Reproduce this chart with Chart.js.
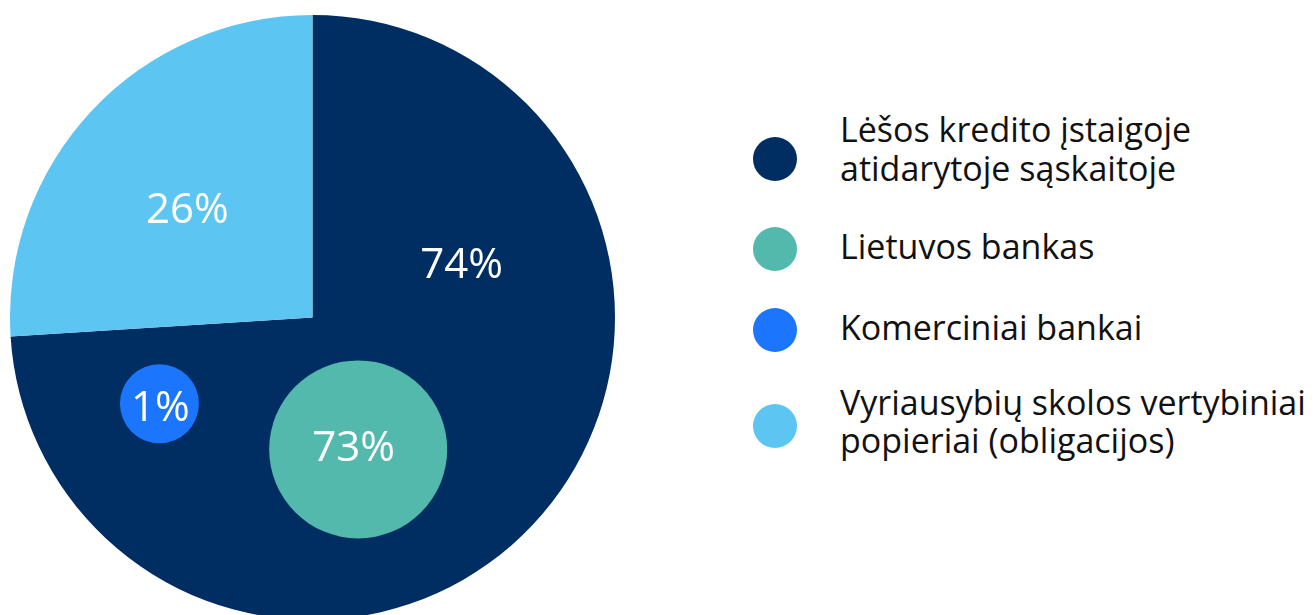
<!DOCTYPE html>
<html lang="lt">
<head>
<meta charset="utf-8">
<script src="https://cdn.jsdelivr.net/npm/chart.js@4/dist/chart.umd.min.js"></script>
<style>
  html, body { margin: 0; padding: 0; background: #fff; overflow: hidden; }
  body { width: 1314px; height: 615px; position: relative; font-family: 'Open Sans', sans-serif; }
  .chart-wrap { position: absolute; left: 10px; top: 15px; width: 605px; height: 605px; }
  .chart-wrap canvas { position: absolute; left: 0; top: 0; }
  .lg-dot { position: absolute; width: 44px; height: 44px; border-radius: 50%; }
  .lg-text { position: absolute; left: 840px; font-size: 34px; line-height: 38.5px; color: #111; white-space: nowrap; }
</style>
</head>
<body>
<div class="chart-wrap"><canvas id="chart-pie"></canvas></div>
<div class="chart-wrap"><canvas id="chart-bubbles"></canvas></div>
<div id="legend"></div>

<script>
// pie slices
const pieLabels = ['Lėšos kredito įstaigoje atidarytoje sąskaitoje', 'Vyriausybių skolos vertybiniai popieriai (obligacijos)']
const pieValues = [74, 26]
const pieColors = ['#002E62', '#5DC5F1']

// circles inside the big slice
const bubbleLabels = ['Lietuvos bankas', 'Komerciniai bankai']
const bubbleValues = [73, 1]
const bubbleColors = ['#53B9AD', '#1B76FD']

// legend
const legendLines = [
  ['Lėšos kredito įstaigoje', 'atidarytoje sąskaitoje'],
  ['Lietuvos bankas'],
  ['Komerciniai bankai'],
  ['Vyriausybių skolos vertybiniai', 'popieriai (obligacijos)'],
]
const legendColors = ['#002E62', '#53B9AD', '#1B76FD', '#5DC5F1']

// layout (in pie-radius units, centre = 0,0)
const bubbleX = [0.151, -0.506]
const bubbleY = [-0.436, -0.285]
const bubbleR = [89, 39.5]
const pieLabelX = [0.493, -0.414]
const pieLabelY = [0.131, 0.312]
const bubbleLabelX = [0.136, -0.503]
const bubbleLabelY = [-0.474, -0.341]
const legendDotY = [159, 249, 330, 426]
const legendTextTop = [110, 227, 307.5, 382.5]

const labelFont = '400 42px "Open Sans"'

new Chart(document.getElementById('chart-pie'), {
  type: 'pie',
  data: {
    labels: pieLabels,
    datasets: [{ data: pieValues, backgroundColor: pieColors, borderWidth: 0 }]
  },
  options: {
    responsive: true, maintainAspectRatio: false, animation: false,
    layout: { padding: 0 },
    events: [],
    plugins: { legend: { display: false }, tooltip: { enabled: false } }
  }
})

const pctLabels = {
  id: 'pctLabels',
  afterDatasetsDraw(chart) {
    const { ctx, scales } = chart
    const items = []
    pieValues.forEach((v, i) => items.push([v, pieLabelX[i], pieLabelY[i]]))
    bubbleValues.forEach((v, i) => items.push([v, bubbleLabelX[i], bubbleLabelY[i]]))
    ctx.save()
    ctx.font = labelFont
    ctx.fillStyle = '#fff'
    ctx.textAlign = 'center'
    ctx.textBaseline = 'alphabetic'
    items.forEach(([v, x, y]) => {
      ctx.fillText(v + '%', scales.x.getPixelForValue(x), scales.y.getPixelForValue(y))
    })
    ctx.restore()
  }
}

new Chart(document.getElementById('chart-bubbles'), {
  type: 'bubble',
  data: {
    labels: bubbleLabels,
    datasets: [{
      data: bubbleValues.map((v, i) => ({ x: bubbleX[i], y: bubbleY[i], r: bubbleR[i], v })),
      backgroundColor: bubbleColors,
      borderWidth: 0,
      hoverRadius: 0
    }]
  },
  options: {
    responsive: true, maintainAspectRatio: false, animation: false,
    layout: { padding: 0, autoPadding: false },
    events: [],
    clip: false,
    scales: {
      x: { type: 'linear', min: -1, max: 1, display: false },
      y: { type: 'linear', min: -1, max: 1, display: false }
    },
    plugins: { legend: { display: false }, tooltip: { enabled: false } }
  },
  plugins: [pctLabels]
})

const legend = document.getElementById('legend')
legendLines.forEach((lines, i) => {
  const dot = document.createElement('div')
  dot.className = 'lg-dot'
  dot.style.left = (775 - 22) + 'px'
  dot.style.top = (legendDotY[i] - 22) + 'px'
  dot.style.background = legendColors[i]
  legend.appendChild(dot)
  const txt = document.createElement('div')
  txt.className = 'lg-text'
  txt.style.top = legendTextTop[i] + 'px'
  txt.innerHTML = lines.join('<br>')
  legend.appendChild(txt)
})
</script>
</body>
</html>
